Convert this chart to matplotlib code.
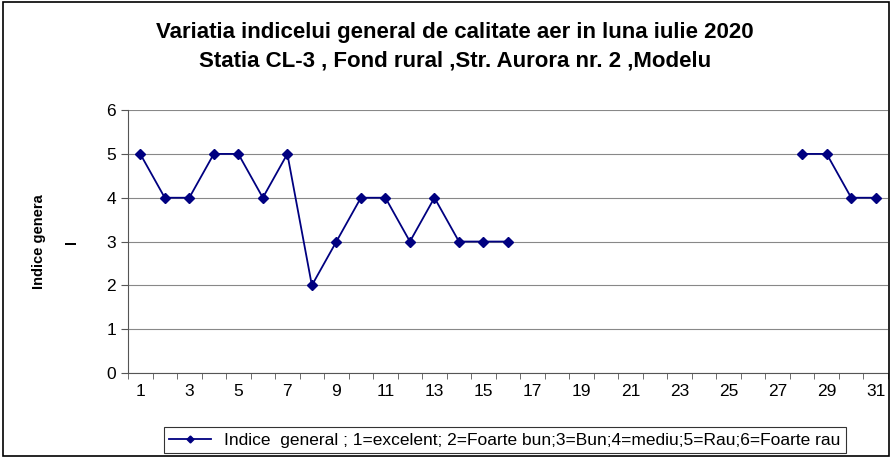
import numpy as np
import matplotlib
matplotlib.use("Agg")
import matplotlib.pyplot as plt

# daily values, July 2020 (missing days 17-27)
days = list(range(1, 32))
indice = [5, 4, 4, 5, 5, 4, 5, 2, 3, 4, 4, 3, 4, 3, 3, 3,
          np.nan, np.nan, np.nan, np.nan, np.nan, np.nan, np.nan, np.nan, np.nan, np.nan, np.nan,
          5, 5, 4, 4]
xticklabels = [str(d) if d % 2 == 1 else "" for d in days]
yticks = [0, 1, 2, 3, 4, 5, 6]

plt.rcParams['font.family'] = ['Liberation Sans', 'DejaVu Sans']

fig = plt.figure(figsize=(8.92, 4.58), dpi=100)
ax = fig.add_axes([0.1435, 0.1856, 0.852, 0.574])

ax.plot(days, indice, color="#000080", marker="D", markersize=5, lw=1.3,
        label="Indice  general ; 1=excelent; 2=Foarte bun;3=Bun;4=mediu;5=Rau;6=Foarte rau")

ax.set_xlim(0.5, 31.5)
ax.set_ylim(0, 6)
ax.set_yticks(yticks)
ax.set_xticks(days)
ax.set_xticklabels(xticklabels)
ax.set_xticks(np.arange(0.5, 32, 1), minor=True)
ax.tick_params(axis="x", which="major", length=0, labelsize=12.5, pad=8)
ax.tick_params(axis="x", which="minor", length=4, direction="out", color="#555555")
ax.tick_params(axis="y", length=5, direction="out", labelsize=12.5, color="#555555")
ax.grid(axis="y", color="#888888", lw=0.8)
ax.set_axisbelow(True)
for s in ["top", "right"]:
    ax.spines[s].set_visible(False)
for s in ["left", "bottom"]:
    ax.spines[s].set_color("#555555")

ax.set_ylabel("Indice genera\nl", fontsize=10.5, fontweight="bold", linespacing=2.8)
ax.yaxis.set_label_coords(-0.064, 0.5)

fig.text(0.51, 0.928, "Variatia indicelui general de calitate aer in luna iulie 2020",
         ha="center", va="center", fontsize=16, fontweight="bold")
fig.text(0.51, 0.866, "Statia CL-3 , Fond rural ,Str. Aurora nr. 2 ,Modelu",
         ha="center", va="center", fontsize=16, fontweight="bold")

leg = ax.legend(loc="center", bbox_to_anchor=(0.566, 0.039), bbox_transform=fig.transFigure,
                fontsize=12.5, frameon=True, fancybox=False, edgecolor="black",
                handlelength=2.4, borderpad=0.3, markerscale=0.7)
leg.get_frame().set_linewidth(0.8)

# outer chart border
fig.patches.append(plt.Rectangle((0.003, 0.005), 0.994, 0.99, transform=fig.transFigure,
                                 fill=False, edgecolor="black", lw=1.2))

fig.savefig("out.png", dpi=100)
